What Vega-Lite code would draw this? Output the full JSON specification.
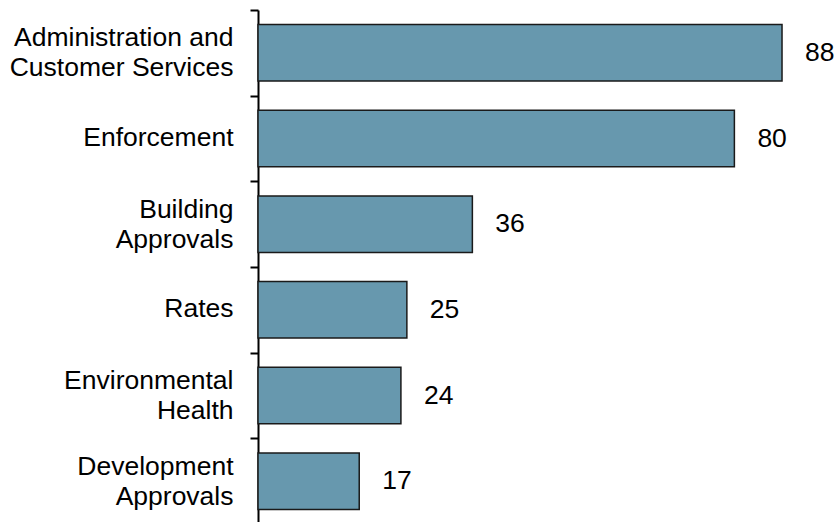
{
  "$schema": "https://vega.github.io/schema/vega-lite/v6.json",
  "autosize": "none",
  "width": 580,
  "height": 514,
  "padding": {"left": 258, "top": 10, "right": 0, "bottom": 0},
  "background": "white",
  "config": {"view": {"stroke": null}, "font": "Liberation Sans"},
  "data": {"values": [
    {"category": "Administration and Customer Services", "value": 88},
    {"category": "Enforcement", "value": 80},
    {"category": "Building Approvals", "value": 36},
    {"category": "Rates", "value": 25},
    {"category": "Environmental Health", "value": 24},
    {"category": "Development Approvals", "value": 17}
  ]},
  "encoding": {
    "y": {
      "field": "category", "type": "nominal", "sort": null,
      "scale": {"paddingInner": 0, "paddingOuter": 0},
      "axis": {
        "title": null,
        "tickBand": "extent",
        "domainColor": "black", "domainWidth": 2,
        "tickColor": "black", "tickWidth": 2, "tickSize": 8,
        "labelFont": "Liberation Sans", "labelFontSize": 26.5, "labelColor": "black",
        "labelPadding": 17, "labelLineHeight": 30, "labelLimit": 300,
        "labelOffset": {"condition": {"test": "datum.value == 'Enforcement' || datum.value == 'Rates'", "value": -1}, "value": -15},
        "labelExpr": "datum.value == 'Administration and Customer Services' ? ['Administration and', 'Customer Services'] : datum.value == 'Building Approvals' ? ['Building', 'Approvals'] : datum.value == 'Environmental Health' ? ['Environmental', 'Health'] : datum.value == 'Development Approvals' ? ['Development', 'Approvals'] : datum.value"
      }
    },
    "x": {
      "field": "value", "type": "quantitative",
      "scale": {"domain": [0, 97.4], "nice": false, "zero": true},
      "axis": null
    }
  },
  "layer": [
    {
      "mark": {"type": "bar", "height": {"band": 0.66}, "fill": "#6798AE", "stroke": "#1a1a1a", "strokeWidth": 1.5}
    },
    {
      "mark": {"type": "text", "align": "left", "baseline": "middle", "dx": 23, "fontSize": 26.5, "font": "Liberation Sans", "color": "black"},
      "encoding": {"text": {"field": "value", "type": "quantitative"}}
    }
  ]
}
